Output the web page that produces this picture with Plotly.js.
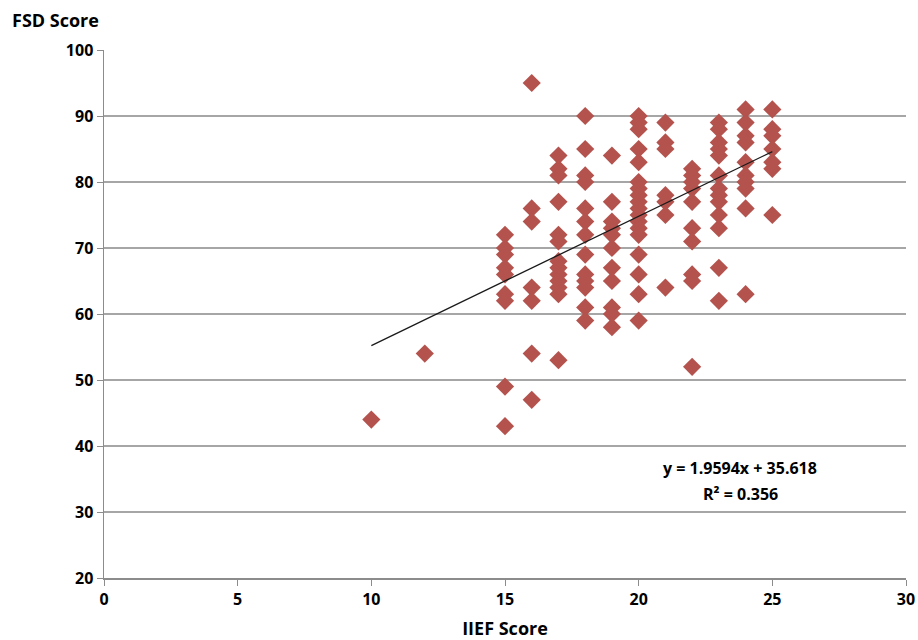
<!DOCTYPE html>
<html>
<head>
<meta charset="utf-8">
<script src="https://cdn.plot.ly/plotly-3.0.1.min.js"></script>
<style>html,body{margin:0;padding:0;background:#fff;}#chart{width:918px;height:640px;}</style>
</head>
<body>
<div id="chart"></div>
<script>
// IIEF score (x) and FSD score (y), read column by column
const iief = [
  10,
  12,
  15,15,15,15,15,15,15,15,15,
  16,16,16,16,16,16,16,
  17,17,17,17,17,17,17,17,17,17,17,17,17,
  18,18,18,18,18,18,18,18,18,18,18,18,18,
  19,19,19,19,19,19,19,19,19,19,19,
  20,20,20,20,20,20,20,20,20,20,20,20,20,20,20,20,20,20,
  21,21,21,21,21,21,21,
  22,22,22,22,22,22,22,22,22,22,
  23,23,23,23,23,23,23,23,23,23,23,23,23,
  24,24,24,24,24,24,24,24,24,24,
  25,25,25,25,25,25,25
];
const fsd = [
  44,
  54,
  72,70,69,67,66,63,62,49,43,
  95,76,74,64,62,54,47,
  84,82,81,77,72,71,68,67,66,65,64,63,53,
  90,85,81,80,76,74,72,69,66,65,64,61,59,
  84,77,74,73,72,70,67,65,61,60,58,
  90,89,88,85,83,80,79,78,77,76,75,74,73,72,69,66,63,59,
  89,86,85,78,77,75,64,
  82,81,80,79,77,73,71,66,65,52,
  89,88,86,85,84,81,79,78,77,75,73,67,62,
  91,89,87,86,83,81,80,79,76,63,
  91,88,87,85,83,82,75
];
const slope = 1.9594;
const intercept = 35.618;
const rSquared = 0.356;
const trendRange = [10, 25];
const xTicks = [0,5,10,15,20,25,30];
const yTicks = [20,30,40,50,60,70,80,90,100];

const trendY = trendRange.map(x => slope * x + intercept);

const fontFam = '"Open Sans", "Liberation Sans", sans-serif';

const data = [
  {
    x: iief, y: fsd, type: 'scatter', mode: 'markers',
    marker: {symbol: 'diamond', size: 14, color: '#b4534e'},
    hoverinfo: 'x+y', showlegend: false
  },
  {
    x: trendRange, y: trendY, type: 'scatter', mode: 'lines',
    line: {color: '#1a1a1a', width: 1.3}, showlegend: false
  }
];

const layout = {
  width: 918, height: 640,
  margin: {l: 104, r: 12, t: 50, b: 62},
  paper_bgcolor: '#ffffff', plot_bgcolor: '#ffffff',
  font: {family: fontFam, size: 16, color: '#000'},
  xaxis: {
    range: [0, 30], tickvals: xTicks, ticktext: xTicks.map(v => '<b>' + v + '</b>'),
    showgrid: false, zeroline: false,
    showline: true, linecolor: '#8c8c8c', linewidth: 1.5,
    ticks: 'outside', ticklen: 6, tickcolor: '#8c8c8c',
    tickfont: {family: fontFam, size: 16, color: '#000'},
    title: {text: '<b>IIEF Score</b>', font: {family: fontFam, size: 18, color: '#000'}, standoff: 16}
  },
  yaxis: {
    range: [20, 100], tickvals: yTicks, ticktext: yTicks.map(v => '<b>' + v + '</b>'),
    showgrid: true, gridcolor: '#a6a6a6', gridwidth: 1.5,
    zeroline: false,
    showline: true, linecolor: '#8c8c8c', linewidth: 1.5,
    ticks: 'outside', ticklen: 6, tickcolor: '#8c8c8c',
    tickfont: {family: fontFam, size: 16, color: '#000'}
  },
  annotations: [
    {
      xref: 'paper', yref: 'paper', x: -0.117, y: 1.057,
      xanchor: 'left', yanchor: 'middle', showarrow: false,
      text: '<b>FSD Score</b>', font: {family: fontFam, size: 18, color: '#000'}
    },
    {
      xref: 'x', yref: 'y', x: 23.8, y: 36.7, showarrow: false,
      xanchor: 'center', yanchor: 'middle',
      text: '<b>y = ' + slope + 'x + ' + intercept + '</b>',
      font: {family: fontFam, size: 16, color: '#000'}
    },
    {
      xref: 'x', yref: 'y', x: 23.8, y: 32.7, showarrow: false,
      xanchor: 'center', yanchor: 'middle',
      text: '<b>R² = ' + rSquared + '</b>',
      font: {family: fontFam, size: 16, color: '#000'}
    }
  ]
};

Plotly.newPlot('chart', data, layout, {displayModeBar: false, staticPlot: true});
</script>
</body>
</html>
